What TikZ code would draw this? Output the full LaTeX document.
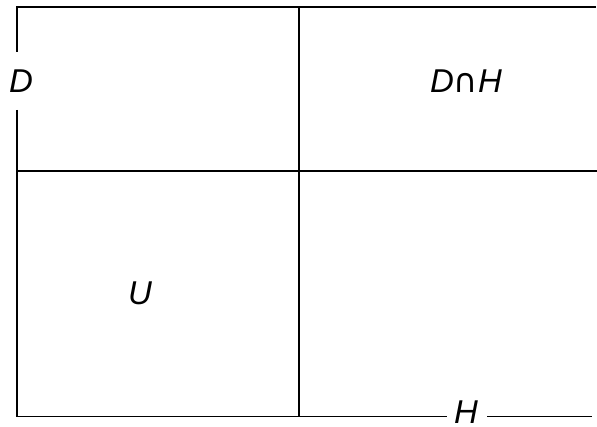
\documentclass[tikz,border=0pt]{standalone}
\usepackage{fontspec}
\setmainfont{Liberation Sans}
\newfontfamily\symfont{DejaVu Sans}
\begin{document}
\begin{tikzpicture}[x=1pt,y=-1pt,
  edge/.style={draw=black,line width=1.5pt},
  lbl/.style={font=\fontsize{33}{36}\selectfont\itshape,inner sep=0pt,anchor=center}]
\useasboundingbox (0,0) rectangle (597,427);
\coordinate (tl) at (17,7);
\coordinate (tr) at (596,7);
\coordinate (tm) at (299,7);
\coordinate (bl) at (17,416.5);
\coordinate (bm) at (299,416.5);
\coordinate (br) at (592,416.5);
\coordinate (ml) at (17,171);
\coordinate (mr) at (597,171);
\coordinate (dtop) at (17,52);
\coordinate (dbot) at (17,110);
\coordinate (hl) at (447,416.5);
\coordinate (hr) at (487,416.5);
\node[lbl] (D) at (21,81) {D};
\node[lbl] (DH) at (466,81) {D{\symfont\upshape ∩}H};
\node[lbl] (U) at (140,293) {U};
\node[lbl] (H) at (466,412) {H};
\draw[edge] (dtop) -- (tl) -- (tr);
\draw[edge] (dbot) -- (bl) -- (hl);
\draw[edge] (hr) -- (br);
\draw[edge] (ml) -- (mr);
\draw[edge] (tm) -- (bm);
\end{tikzpicture}
\end{document}
